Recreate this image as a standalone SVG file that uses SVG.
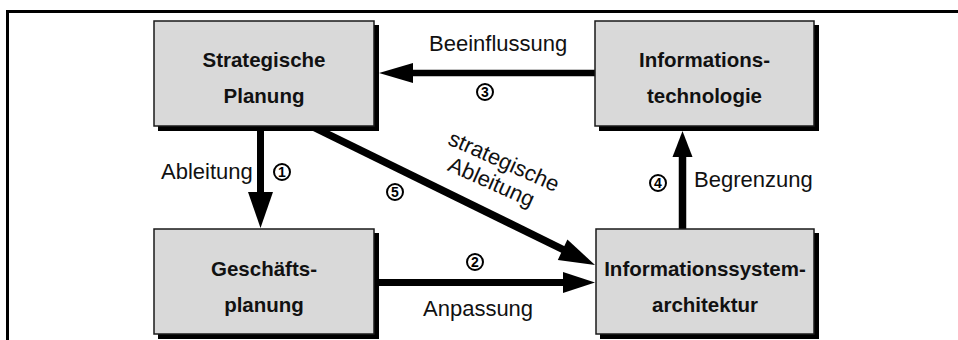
<svg xmlns="http://www.w3.org/2000/svg" width="958" height="340" viewBox="0 0 958 340">
<style>
.frame{fill:none;stroke:#000;stroke-width:3}
.shadow{fill:#000}
.box{fill:#d9d9d9;stroke:#1a1a1a;stroke-width:1.5}
.title{font-family:"Liberation Sans",Arial,Helvetica,sans-serif;font-weight:bold;font-size:20.5px;fill:#111;text-anchor:middle}
.lbl{font-family:"Liberation Sans",Arial,Helvetica,sans-serif;font-size:22px;fill:#111}
.line{stroke:#000;stroke-width:7;fill:none}
.head{fill:#000}
.num circle{fill:#fff;stroke:#000;stroke-width:2}
.num text{font-family:"Liberation Sans",Arial,Helvetica,sans-serif;font-weight:bold;font-size:14px;fill:#000;text-anchor:middle}
</style>
<rect width="958" height="340" fill="#fff"/>
<path class="frame" d="M7.5 342 V11.5 H960"/>
<g id="connectors">
  <line class="line" x1="260.5" y1="126" x2="260.5" y2="194"/>
  <polygon class="head" points="248,192 273,192 260.5,228"/>
  <line class="line" x1="374" y1="282.5" x2="565" y2="282.5"/>
  <polygon class="head" points="563,272 563,293 595,282.5"/>
  <line class="line" x1="595" y1="73" x2="411" y2="73" style="stroke-width:6.5"/>
  <polygon class="head" points="413,63 413,83 379,73"/>
  <line class="line" x1="682.5" y1="229" x2="682.5" y2="155" style="stroke-width:7.5"/>
  <polygon class="head" points="672.5,157 692.5,157 682.5,131"/>
  <line class="line" x1="305" y1="123" x2="565" y2="250.5" style="stroke-width:7.5"/>
  <polygon class="head" points="557.8,260 567.4,239.5 595,265"/>
  <text class="lbl" x="429" y="51">Beeinflussung</text>
  <text class="lbl" x="161" y="179">Ableitung</text>
  <text class="lbl" x="694" y="187">Begrenzung</text>
  <text class="lbl" x="423" y="316">Anpassung</text>
  <g transform="translate(501,168) rotate(24)">
    <text class="lbl" x="0" y="0" text-anchor="middle">strategische</text>
    <text class="lbl" x="-3" y="24" text-anchor="middle">Ableitung</text>
  </g>
  <g class="num"><circle cx="282" cy="172" r="8"/><text x="282" y="177">1</text></g>
  <g class="num"><circle cx="475" cy="262" r="8"/><text x="475" y="267">2</text></g>
  <g class="num"><circle cx="485" cy="92" r="8"/><text x="485" y="97">3</text></g>
  <g class="num"><circle cx="658" cy="183" r="8"/><text x="658" y="188">4</text></g>
  <g class="num"><circle cx="395" cy="192" r="8"/><text x="395" y="197">5</text></g>
</g>
<g id="strategische-planung">
  <rect class="shadow" x="158" y="25" width="221" height="106"/>
  <rect class="box" x="154" y="21" width="220" height="105"/>
  <text class="title" x="264" y="67">Strategische</text>
  <text class="title" x="264" y="103">Planung</text>
</g>
<g id="informationstechnologie">
  <rect class="shadow" x="599" y="25" width="220" height="106"/>
  <rect class="box" x="595" y="21" width="219" height="105"/>
  <text class="title" x="704.5" y="67">Informations-</text>
  <text class="title" x="704.5" y="103">technologie</text>
</g>
<g id="geschaeftsplanung">
  <rect class="shadow" x="158" y="233" width="221" height="106"/>
  <rect class="box" x="154" y="229" width="220" height="105"/>
  <text class="title" x="264" y="276">Geschäfts-</text>
  <text class="title" x="264" y="312">planung</text>
</g>
<g id="informationssystemarchitektur">
  <rect class="shadow" x="600" y="233" width="219" height="106"/>
  <rect class="box" x="596" y="229" width="218" height="105"/>
  <text class="title" x="705" y="276">Informationssystem-</text>
  <text class="title" x="705" y="312">architektur</text>
</g>
</svg>
